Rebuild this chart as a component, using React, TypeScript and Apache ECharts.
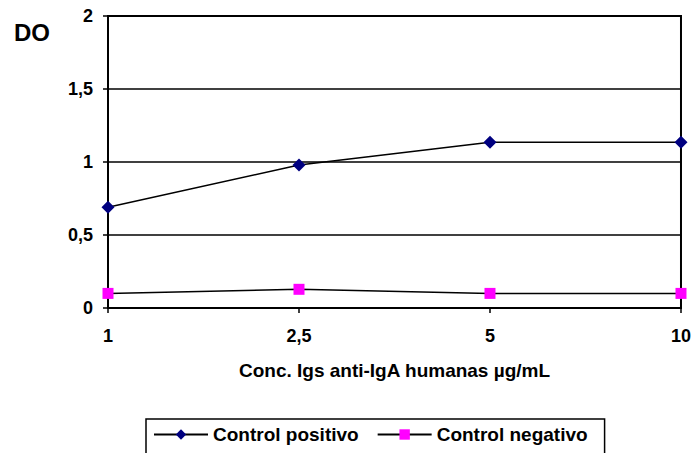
import React, { useEffect, useRef } from "react";
import * as echarts from "echarts";

// Concentration of anti-IgA immunoglobulins (µg/mL)
const concentrations = ["1", "2,5", "5", "10"];
// Optical density readings
const positiveControl = [0.69, 0.98, 1.135, 1.135];
const negativeControl = [0.1, 0.128, 0.1, 0.1];
const yTicks = { min: 0, max: 2, interval: 0.5 };

const FONT = "'Liberation Sans', Arial, sans-serif";

export default function App() {
  const ref = useRef<HTMLDivElement>(null);

  useEffect(() => {
    if (!ref.current) return;
    const chart = echarts.init(ref.current, null, { renderer: "svg" });
    chart.setOption({
      animation: false,
      backgroundColor: "#ffffff",
      textStyle: { fontFamily: FONT },
      title: {
        text: "DO",
        left: 14,
        top: 20,
        padding: 0,
        textStyle: { fontFamily: FONT, fontWeight: "bold", fontSize: 24, color: "#000" },
      },
      grid: {
        left: 108,
        top: 16,
        right: 12,
        bottom: 145,
        show: true,
        borderColor: "#000",
        borderWidth: 2,
        backgroundColor: "transparent",
      },
      xAxis: {
        type: "category",
        data: concentrations,
        boundaryGap: false,
        name: "Conc. Igs anti-IgA humanas µg/mL",
        nameLocation: "middle",
        nameGap: 53,
        nameTextStyle: { fontFamily: FONT, fontWeight: "bold", fontSize: 19, color: "#000" },
        axisLine: { lineStyle: { color: "#000", width: 2 } },
        axisTick: { show: true, length: 5, inside: false, lineStyle: { color: "#000", width: 1.5 } },
        axisLabel: {
          margin: 19,
          fontFamily: FONT,
          fontWeight: "bold",
          fontSize: 18,
          color: "#000",
        },
        splitLine: { show: false },
      },
      yAxis: {
        type: "value",
        min: yTicks.min,
        max: yTicks.max,
        interval: yTicks.interval,
        axisLine: { show: true, lineStyle: { color: "#000", width: 2 } },
        axisTick: { show: true, length: 5, lineStyle: { color: "#000", width: 1.5 } },
        axisLabel: {
          margin: 15,
          fontFamily: FONT,
          fontWeight: "bold",
          fontSize: 18,
          color: "#000",
          formatter: (v: number) => String(v).replace(".", ","),
        },
        splitLine: { show: true, lineStyle: { color: "#000", width: 1.5 } },
      },
      legend: {
        left: 146,
        top: 419,
        orient: "horizontal",
        itemWidth: 54,
        itemHeight: 13,
        itemGap: 18,
        padding: [6, 17, 20, 7],
        borderColor: "#000",
        borderWidth: 1.5,
        textStyle: { fontFamily: FONT, fontWeight: "bold", fontSize: 19, color: "#000" },
        data: ["Control positivo", "Control negativo"],
      },
      series: [
        {
          name: "Control positivo",
          type: "line",
          data: positiveControl,
          symbol: "diamond",
          symbolSize: 13,
          lineStyle: { color: "#000", width: 1.5 },
          itemStyle: { color: "#000080" },
        },
        {
          name: "Control negativo",
          type: "line",
          data: negativeControl,
          symbol: "rect",
          symbolSize: 11,
          lineStyle: { color: "#000", width: 1.5 },
          itemStyle: { color: "#ff00ff" },
        },
      ],
    });
    return () => chart.dispose();
  }, []);

  return <div ref={ref} style={{ width: 694, height: 453, position: "absolute", left: 0, top: 0 }} />;
}
